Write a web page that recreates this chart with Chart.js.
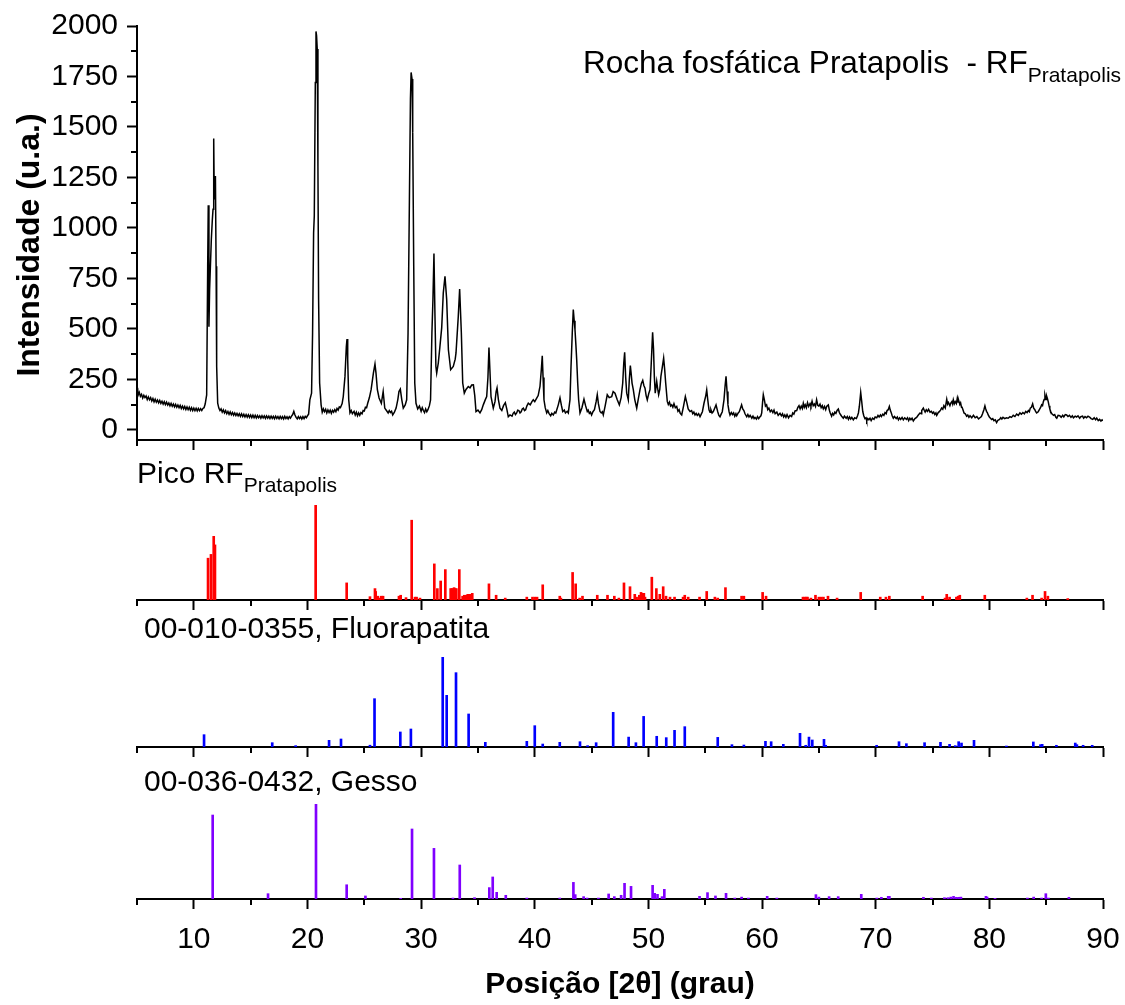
<!DOCTYPE html>
<html lang="pt">
<head>
<meta charset="utf-8">
<title>DRX - Rocha fosfática Pratapolis</title>
<script src="https://cdn.jsdelivr.net/npm/chart.js@4.4.1/dist/chart.umd.min.js"></script>
<style>
  html, body { margin: 0; padding: 0; background: #fff; }
  #page { position: relative; width: 1125px; height: 1005px; overflow: hidden;
          font-family: 'Liberation Sans', Arial, sans-serif; color: #000; }
  canvas { position: absolute; left: 0; display: block; }
  .label { position: absolute; font-size: 30px; line-height: 30px; white-space: pre; }
  .label .sub { font-size: 21px; position: relative; top: 9px; }
  .ytitle { position: absolute; width: 400px; left: -172px; top: 227px; height: 36px; line-height: 36px;
            text-align: center; font-size: 32px; font-weight: bold; transform: rotate(-90deg); }
</style>
</head>
<body>
<div id="page">
  <canvas id="scanChart" width="1125" height="460" style="top:0px"></canvas>
  <canvas id="picoChart" width="1125" height="160" style="top:460px"></canvas>
  <canvas id="fluorChart" width="1125" height="147" style="top:620px"></canvas>
  <canvas id="gessoChart" width="1125" height="235" style="top:770px"></canvas>

  <div class="ytitle">Intensidade (u.a.)</div>
  <div class="label" style="left:583px; top:47px; font-size:31.5px">Rocha fosfática Pratapolis  - RF<span class="sub">Pratapolis</span></div>
  <div class="label" style="left:137px; top:458px">Pico RF<span class="sub">Pratapolis</span></div>
  <div class="label" style="left:144px; top:613px">00-010-0355, Fluorapatita</div>
  <div class="label" style="left:144px; top:766px">00-036-0432, Gesso</div>
</div>

<script>
// --- DATA ---
// measured pattern: [2theta, counts]
const scanPoints = [
  [5.0,182],[5.05,208],[5.1,172],[5.2,186],[5.3,166],[5.4,176],[5.5,158],[5.6,171],[5.7,160],[5.8,168],
  [5.9,150],[6.0,163],[6.1,149],[6.2,160],[6.3,143],[6.4,155],[6.5,139],[6.6,152],[6.7,137],[6.8,148],
  [6.9,134],[7.0,146],[7.1,131],[7.2,142],[7.3,128],[7.4,140],[7.5,125],[7.6,137],[7.7,123],[7.8,133],
  [7.9,119],[8.0,131],[8.1,117],[8.2,128],[8.3,114],[8.4,126],[8.5,112],[8.6,123],[8.7,110],[8.8,121],
  [8.9,106],[9.0,118],[9.1,104],[9.2,116],[9.3,101],[9.4,114],[9.5,100],[9.6,112],[9.7,97],[9.8,110],
  [9.9,96],[10.0,108],[10.1,95],[10.2,107],[10.3,94],[10.4,106],[10.5,95],[10.6,105],[10.7,96],[10.8,106],
  [10.9,110],[11.0,128],[11.13,173],[11.22,810],[11.27,1112],[11.33,511],[11.39,695],[11.54,943],[11.63,1042],[11.69,1092],
  [11.75,1443],[11.8,1141],[11.9,1257],[11.96,810],[12.01,314],[12.1,132],[12.2,108],[12.3,96],[12.4,104],[12.5,88],
  [12.6,99],[12.7,84],[12.8,95],[12.9,80],[13.0,91],[13.1,77],[13.2,89],[13.3,75],[13.4,86],[13.5,73],
  [13.6,84],[13.7,71],[13.8,82],[13.9,70],[14.0,80],[14.1,67],[14.2,79],[14.3,66],[14.4,77],[14.5,64],
  [14.6,76],[14.7,63],[14.8,75],[14.9,62],[15.0,74],[15.1,61],[15.2,73],[15.3,60],[15.4,72],[15.5,59],
  [15.6,71],[15.7,60],[15.8,70],[15.9,58],[16.0,70],[16.1,59],[16.2,69],[16.3,57],[16.4,69],[16.5,58],
  [16.6,68],[16.7,56],[16.8,68],[16.9,57],[17.0,67],[17.1,55],[17.2,68],[17.3,57],[17.4,66],[17.5,55],
  [17.6,67],[17.7,56],[17.8,66],[17.9,54],[18.0,67],[18.1,56],[18.2,65],[18.3,55],[18.4,66],[18.5,58],
  [18.6,68],[18.7,76],[18.8,92],[18.9,74],[19.0,62],[19.1,55],[19.2,66],[19.3,56],[19.4,65],[19.5,54],
  [19.6,66],[19.7,56],[19.8,67],[19.9,60],[20.0,70],[20.1,78],[20.21,149],[20.36,182],[20.45,480],[20.54,976],
  [20.6,1059],[20.69,1720],[20.75,1973],[20.8,1952],[20.86,1886],[20.92,1307],[20.98,645],[21.07,232],[21.2,124],[21.3,88],
  [21.4,104],[21.5,90],[21.6,102],[21.7,84],[21.8,99],[21.9,86],[22.0,98],[22.1,82],[22.2,97],[22.3,88],
  [22.4,100],[22.5,90],[22.6,106],[22.7,98],[22.8,114],[22.9,110],[23.05,130],[23.15,165],[23.3,265],[23.42,413],
  [23.48,450],[23.54,347],[23.63,149],[23.74,84],[23.85,96],[23.95,80],[24.1,92],[24.2,74],[24.3,88],[24.4,70],
  [24.5,84],[24.6,72],[24.7,86],[24.8,80],[24.9,96],[25.0,94],[25.1,112],[25.2,110],[25.3,132],[25.45,160],
  [25.6,199],[25.8,281],[25.94,326],[26.03,281],[26.15,199],[26.3,158],[26.5,132],[26.66,190],[26.8,108],[26.95,96],
  [27.1,84],[27.2,96],[27.3,86],[27.4,92],[27.5,74],[27.65,88],[27.8,108],[27.95,150],[28.05,190],[28.17,202],
  [28.3,149],[28.43,108],[28.6,124],[28.73,149],[28.85,480],[28.97,1141],[29.06,1638],[29.12,1770],[29.2,1737],[29.26,1472],
  [29.35,810],[29.44,232],[29.55,132],[29.7,104],[29.85,118],[30.0,92],[30.1,110],[30.2,96],[30.3,86],[30.4,104],
  [30.5,90],[30.6,100],[30.73,120],[30.83,149],[30.95,480],[31.04,645],[31.13,873],[31.22,562],[31.3,314],[31.37,281],
  [31.51,331],[31.65,410],[31.81,505],[31.95,678],[32.1,761],[32.25,645],[32.4,397],[32.6,298],[32.83,314],[33.0,350],
  [33.07,381],[33.27,562],[33.39,698],[33.54,480],[33.66,232],[33.8,182],[33.95,200],[34.15,215],[34.3,208],[34.45,222],
  [34.6,223],[34.72,170],[34.83,91],[35.0,98],[35.18,84],[35.33,100],[35.47,124],[35.65,150],[35.77,165],[35.88,260],
  [35.97,408],[36.05,300],[36.15,165],[36.35,108],[36.5,140],[36.6,190],[36.68,208],[36.8,150],[36.94,108],[37.1,96],
  [37.25,120],[37.41,135],[37.55,100],[37.67,65],[37.82,74],[38.0,68],[38.1,82],[38.2,88],[38.3,76],[38.41,84],
  [38.5,98],[38.6,96],[38.7,84],[38.8,90],[38.9,104],[39.0,108],[39.1,96],[39.2,100],[39.3,118],[39.43,132],
  [39.6,124],[39.75,140],[39.87,149],[40.0,140],[40.17,157],[40.3,170],[40.46,215],[40.58,300],[40.66,367],[40.73,260],
  [40.81,149],[40.92,110],[41.05,84],[41.15,96],[41.25,82],[41.4,70],[41.5,82],[41.63,74],[41.75,88],[41.85,84],
  [42.07,124],[42.22,159],[42.35,120],[42.46,91],[42.6,98],[42.7,84],[42.85,92],[42.95,84],[43.1,150],[43.19,314],
  [43.3,480],[43.39,596],[43.47,540],[43.54,496],[43.62,420],[43.69,347],[43.78,230],[43.86,149],[43.98,84],[44.15,110],
  [44.33,152],[44.47,120],[44.62,91],[44.7,98],[44.8,82],[44.9,88],[45.0,74],[45.12,90],[45.25,100],[45.4,140],
  [45.5,174],[45.6,130],[45.74,91],[45.85,84],[45.95,90],[46.03,74],[46.2,120],[46.38,174],[46.55,160],[46.77,165],
  [46.9,190],[47.06,182],[47.25,150],[47.44,124],[47.6,160],[47.74,232],[47.83,330],[47.91,384],[48.0,260],[48.09,182],
  [48.23,149],[48.32,250],[48.41,319],[48.48,280],[48.56,232],[48.67,199],[48.8,150],[48.97,108],[49.1,150],[49.26,199],
  [49.38,230],[49.5,245],[49.6,220],[49.7,207],[49.8,170],[49.9,149],[50.03,180],[50.14,199],[50.25,330],[50.37,483],
  [50.45,400],[50.52,265],[50.6,182],[50.73,240],[50.8,210],[50.9,174],[51.0,200],[51.1,265],[51.22,310],[51.34,356],
  [51.43,300],[51.52,232],[51.66,141],[51.75,126],[51.85,138],[51.95,118],[52.05,124],[52.15,112],[52.25,130],[52.37,110],
  [52.49,116],[52.6,92],[52.7,100],[52.8,82],[52.93,74],[53.1,120],[53.25,165],[53.4,130],[53.5,104],[53.66,91],
  [53.8,96],[53.9,80],[54.0,88],[54.1,74],[54.2,82],[54.3,72],[54.42,80],[54.54,65],[54.65,78],[54.75,90],
  [54.89,132],[55.05,170],[55.13,198],[55.22,150],[55.33,99],[55.42,88],[55.5,100],[55.6,84],[55.71,91],[55.85,110],
  [55.95,124],[56.1,90],[56.2,72],[56.3,65],[56.4,78],[56.5,90],[56.65,149],[56.75,220],[56.83,265],[56.92,190],
  [57.0,124],[57.1,90],[57.18,74],[57.3,86],[57.4,76],[57.5,84],[57.6,68],[57.7,80],[57.77,70],[57.9,84],
  [58.0,90],[58.2,124],[58.3,104],[58.4,96],[58.5,80],[58.65,65],[58.75,76],[58.85,64],[58.95,72],[59.1,58],
  [59.2,68],[59.3,56],[59.38,62],[59.5,54],[59.6,66],[59.7,56],[59.8,64],[59.9,70],[59.97,84],[60.05,140],
  [60.11,174],[60.2,150],[60.3,118],[60.4,124],[60.5,100],[60.6,108],[60.72,90],[60.84,98],[60.95,86],[61.05,98],
  [61.15,80],[61.3,88],[61.42,72],[61.58,82],[61.7,70],[61.8,80],[61.9,64],[62.0,74],[62.1,62],[62.2,76],
  [62.33,60],[62.46,72],[62.6,66],[62.7,84],[62.8,78],[62.9,94],[63.05,96],[63.15,112],[63.25,120],[63.35,104],
  [63.45,118],[63.55,106],[63.63,132],[63.72,112],[63.8,124],[63.9,110],[64.0,135],[64.1,116],[64.22,130],[64.3,118],
  [64.4,142],[64.5,120],[64.6,128],[64.7,116],[64.8,149],[64.9,122],[65.0,118],[65.1,128],[65.2,110],[65.3,120],
  [65.39,104],[65.5,116],[65.6,100],[65.7,118],[65.83,124],[65.92,98],[66.0,84],[66.12,68],[66.2,82],[66.3,74],
  [66.4,88],[66.5,82],[66.6,96],[66.71,103],[66.8,86],[66.9,76],[67.0,68],[67.15,58],[67.25,68],[67.4,58],
  [67.5,66],[67.6,52],[67.7,64],[67.8,54],[67.9,62],[68.03,50],[68.15,60],[68.3,56],[68.4,70],[68.48,84],
  [68.56,116],[68.68,185],[68.77,140],[68.86,91],[68.95,70],[69.05,56],[69.15,60],[69.21,45],[69.3,56],[69.4,50],
  [69.5,58],[69.6,46],[69.72,58],[69.85,52],[69.95,64],[70.09,60],[70.2,72],[70.3,64],[70.42,74],[70.5,66],
  [70.62,78],[70.72,72],[70.82,86],[70.92,80],[71.0,96],[71.1,100],[71.2,116],[71.28,98],[71.35,88],[71.45,70],
  [71.55,58],[71.65,66],[71.8,56],[71.9,64],[72.0,50],[72.1,60],[72.2,52],[72.32,62],[72.43,50],[72.55,60],
  [72.7,52],[72.8,60],[72.9,46],[73.0,58],[73.1,50],[73.2,58],[73.31,44],[73.45,56],[73.6,62],[73.75,74],
  [73.9,84],[74.0,80],[74.05,96],[74.19,108],[74.28,96],[74.35,88],[74.45,100],[74.55,92],[74.65,102],[74.78,88],
  [74.9,92],[75.0,82],[75.1,88],[75.2,76],[75.3,84],[75.37,72],[75.5,86],[75.6,90],[75.7,98],[75.8,108],
  [75.9,102],[76.0,120],[76.12,108],[76.25,152],[76.33,128],[76.4,136],[76.53,120],[76.62,134],[76.7,140],[76.77,128],
  [76.83,149],[76.92,130],[77.0,140],[77.1,130],[77.18,157],[77.25,138],[77.3,146],[77.4,126],[77.47,134],[77.55,112],
  [77.6,112],[77.7,96],[77.77,84],[77.88,80],[78.0,68],[78.1,74],[78.2,62],[78.3,70],[78.45,60],[78.6,72],
  [78.75,60],[78.9,66],[79.05,54],[79.17,60],[79.3,66],[79.4,80],[79.52,100],[79.61,119],[79.68,104],[79.75,92],
  [79.82,86],[79.9,74],[80.0,64],[80.1,58],[80.2,52],[80.3,56],[80.4,46],[80.52,50],[80.64,36],[80.75,48],
  [80.9,52],[81.0,60],[81.1,54],[81.2,62],[81.35,56],[81.5,60],[81.65,58],[81.81,66],[81.95,62],[82.1,72],
  [82.25,66],[82.4,78],[82.55,72],[82.69,84],[82.82,78],[82.95,86],[83.08,80],[83.2,92],[83.32,86],[83.43,96],
  [83.52,90],[83.6,108],[83.7,112],[83.81,129],[83.9,108],[84.0,100],[84.08,90],[84.16,84],[84.3,90],[84.4,100],
  [84.5,110],[84.6,124],[84.68,120],[84.75,140],[84.82,150],[84.89,174],[84.95,160],[85.0,150],[85.05,166],[85.1,157],
  [85.18,140],[85.25,120],[85.32,104],[85.4,91],[85.5,80],[85.65,72],[85.75,76],[85.85,62],[85.93,58],[86.05,72],
  [86.2,70],[86.32,62],[86.45,72],[86.55,64],[86.68,76],[86.8,74],[86.92,66],[87.05,72],[87.18,62],[87.3,70],
  [87.4,60],[87.55,68],[87.68,64],[87.8,70],[87.95,58],[88.05,66],[88.2,68],[88.3,58],[88.42,66],[88.55,60],
  [88.68,68],[88.85,62],[88.95,56],[89.1,52],[89.22,60],[89.35,50],[89.45,58],[89.58,46],[89.7,52],[89.82,44],
  [89.92,50],[90.0,45]
];

// peak list of the sample: [2theta, relative intensity %]
const picoPeaks = [
  [11.25,44],[11.51,48],[11.75,67],[11.86,58],[20.72,100],[23.45,18],[25.5,3.5],[25.94,12],[26.0,9],[26.2,4],
  [26.4,2],[26.5,4],[26.65,4],[28.05,4],[28.2,5],[28.67,2.5],[29.17,84],[29.46,3],[29.6,3],[29.9,2],
  [31.16,38],[31.43,12],[31.72,20],[32.13,32],[32.6,12],[32.7,12],[32.8,12],[32.9,13],[33.0,12],[33.1,12],
  [33.36,32],[33.65,4],[33.8,5],[33.95,5],[34.1,6],[34.3,6],[34.5,7],[35.97,17],[36.6,5],[37.4,2],
  [39.3,3],[39.8,3],[40.0,3],[40.2,3],[40.7,16],[42.2,4],[42.3,2],[43.33,29],[43.6,17],[43.95,2],
  [44.2,4],[45.5,5],[46.4,5],[47.0,4],[47.4,2],[47.85,18],[48.38,14],[48.8,6],[48.96,3],[49.2,5],
  [49.35,8],[49.5,7],[49.6,7],[49.7,3],[50.3,24],[50.7,12],[51.0,6],[51.3,14],[51.55,4],[51.9,3],
  [52.3,3],[53.05,3],[53.2,5],[53.5,3],[54.5,3],[55.13,9],[55.85,3],[56.1,2],[56.78,13],[58.2,4],
  [58.4,4],[60.05,8],[60.35,4],[63.6,3],[63.75,3],[63.9,3],[64.0,3],[64.3,2],[64.7,5],[65.0,3],
  [65.2,3],[65.4,3],[65.8,4],[66.6,2],[68.68,8],[70.4,3],[70.9,3],[71.2,4],[74.13,4],[76.1,2],
  [76.25,6],[76.5,3],[77.1,3],[77.25,4],[77.4,5],[79.6,5],[83.3,2],[83.8,5],[84.6,2],[84.9,9],
  [85.15,4],[86.9,1.5]
];

// reference card 00-010-0355 (fluorapatite)
const fluorPeaks = [
  [10.9,13.7],[16.9,4.8],[18.96,1.5],[21.9,7.4],[22.95,8.9],[25.5,2],[25.9,53.7],[28.17,16.7],[29.1,20],[31.9,100],
  [32.25,57.4],[33.07,82.6],[34.18,36.7],[35.65,5.2],[39.3,6.3],[40.0,23.7],[40.7,3.3],[42.2,5.2],[43.98,5.9],[44.65,1.5],
  [45.4,4.8],[46.9,38.5],[48.26,11],[48.9,4.8],[49.58,34],[50.73,11.9],[51.57,10.4],[52.3,18.5],[53.2,22.6],[56.1,10.7],
  [57.35,2.6],[58.4,2.2],[60.3,6.3],[60.8,5.9],[61.87,3],[63.34,15.2],[63.84,1.9],[64.13,11],[64.42,7.8],[65.45,8.5],
  [65.6,1.9],[70.08,1.9],[72.05,5.9],[72.7,3.7],[74.3,4.8],[75.7,5.2],[76.5,3],[77.0,1.5],[77.3,5.9],[77.55,4.4],
  [78.65,7.4],[81.5,1.1],[83.87,5.6],[84.5,2.6],[84.65,3],[85.9,1.9],[87.56,4.4],[87.7,2.6],[88.25,1.9],[89.05,1.9]
];

// reference card 00-036-0432 (gypsum)
const gessoPeaks = [
  [11.66,88.4],[16.53,5.6],[20.75,100],[23.45,15],[25.1,3.2],[28.2,0.7],[29.2,73.7],[31.13,53.3],[32.8,1],[33.4,35.8],
  [34.7,1.4],[36.0,12],[36.3,23.2],[36.65,7],[37.45,3.9],[39.3,1],[42.2,1],[43.4,17.5],[43.56,4.6],[44.3,2.5],
  [44.6,1],[45.6,1],[46.5,5.3],[47.0,2.5],[47.6,3.9],[47.9,16.5],[48.47,13.3],[50.37,14.4],[50.55,6],[50.8,4.9],
  [51.2,2.5],[51.4,10.2],[54.5,2.8],[55.2,6.7],[55.9,3.2],[56.83,6],[57.6,1],[58.2,2],[58.8,1],[60.45,2.8],
  [61.3,1],[64.74,4.6],[65.0,2],[65.9,2.5],[66.7,2.5],[68.73,4.9],[70.1,1],[70.5,1.8],[71.1,2.8],[71.2,2.8],
  [74.2,1.8],[74.9,1],[76.05,1.4],[76.35,1.4],[76.6,2],[76.85,2.8],[77.1,1.8],[77.3,1.8],[77.5,2],[79.7,2.8],
  [79.8,2],[80.5,0.7],[83.35,1],[83.9,2],[84.6,1],[84.97,5.6],[85.2,1],[87.0,1.8]
];

// axis ranges
const xRange = [5, 90];
const xMajorStep = 10, xMinorStep = 5;
const yRange = [-50, 2000];
const yMajorStep = 250, yMinorStep = 125;

// --- HELPERS ---
const FONT = "'Liberation Sans', Arial, sans-serif";
const isMajorX = v => v % xMajorStep === 0;
const isMajorY = v => v >= 0 && v % yMajorStep === 0;
const toXY = pairs => pairs.map(([x, y]) => ({ x, y }));

// Chart.js has a single tick length per axis, so the short minor ticks are added here
const minorTicks = {
  id: 'minorTicks',
  afterDraw(chart) {
    const { ctx, chartArea, scales } = chart;
    ctx.save();
    ctx.strokeStyle = '#000';
    ctx.lineWidth = 2;
    scales.x.ticks.forEach(t => {
      if (isMajorX(t.value)) return;
      const px = Math.round(scales.x.getPixelForValue(t.value));
      ctx.beginPath();
      ctx.moveTo(px, chartArea.bottom);
      ctx.lineTo(px, chartArea.bottom + 6);
      ctx.stroke();
    });
    if (scales.y.options.display) {
      scales.y.ticks.forEach(t => {
        if (t.value <= 0 || isMajorY(t.value) || t.value % yMinorStep !== 0) return;
        const py = Math.round(scales.y.getPixelForValue(t.value));
        ctx.beginPath();
        ctx.moveTo(chartArea.left - 6, py);
        ctx.lineTo(chartArea.left, py);
        ctx.stroke();
      });
    }
    ctx.restore();
  }
};

function xAxis(height, withLabels) {
  return {
    type: 'linear',
    min: xRange[0],
    max: xRange[1],
    offset: false,
    afterFit: scale => {
      scale.height = height;
      scale.paddingLeft = 0;
      scale.paddingRight = 0;
    },
    border: { display: true, color: '#000', width: 2 },
    grid: {
      offset: false,
      drawOnChartArea: false,
      drawTicks: true,
      tickLength: 10,
      tickWidth: 2,
      tickColor: ctx => isMajorX(ctx.tick.value) ? '#000' : 'rgba(0,0,0,0)'
    },
    ticks: {
      display: withLabels,
      stepSize: xMinorStep,
      autoSkip: false,
      maxRotation: 0,
      padding: 13,
      color: '#000',
      font: { family: FONT, size: 30 },
      callback: v => isMajorX(v) ? String(v) : ''
    },
    title: {
      display: withLabels,
      text: 'Posição [2θ] (grau)',
      color: '#000',
      font: { family: FONT, size: 30, weight: 'bold' },
      padding: { top: 0, bottom: 2 }
    }
  };
}

function stickChart(id, peaks, color, top, xHeight, withLabels) {
  return new Chart(document.getElementById(id), {
    type: 'bar',
    data: {
      datasets: [{
        data: toXY(peaks),
        backgroundColor: color,
        borderWidth: 0,
        barThickness: 2
      }]
    },
    options: {
      responsive: false,
      animation: false,
      layout: { padding: { top: top, right: 22, bottom: 0, left: 137 } },
      plugins: { legend: { display: false }, tooltip: { enabled: false } },
      scales: {
        x: xAxis(xHeight, withLabels),
        y: { display: false, min: 0, max: 100 }
      }
    },
    plugins: [minorTicks]
  });
}

// --- CHARTS ---
new Chart(document.getElementById('scanChart'), {
  type: 'line',
  data: {
    datasets: [{
      data: toXY(scanPoints),
      borderColor: '#000',
      borderWidth: 1.5,
      pointRadius: 0,
      tension: 0
    }]
  },
  options: {
    responsive: false,
    animation: false,
    layout: { padding: { top: 26, right: 22, bottom: 0, left: 0 } },
    plugins: { legend: { display: false }, tooltip: { enabled: false } },
    scales: {
      x: xAxis(20, false),
      y: {
        min: yRange[0],
        max: yRange[1],
        afterFit: scale => {
          scale.width = 137;
          scale.paddingTop = 0;
          scale.paddingBottom = 0;
        },
        border: { display: true, color: '#000', width: 2 },
        grid: {
          drawOnChartArea: false,
          tickLength: 10,
          tickWidth: 2,
          tickColor: ctx => isMajorY(ctx.tick.value) ? '#000' : 'rgba(0,0,0,0)'
        },
        ticks: {
          stepSize: yMinorStep,
          includeBounds: false,
          autoSkip: false,
          padding: 9,
          color: '#000',
          font: { family: FONT, size: 30 },
          callback: v => isMajorY(v) ? String(v) : ''
        }
      }
    }
  },
  plugins: [minorTicks]
});

stickChart('picoChart', picoPeaks, '#ff0000', 45, 20, false);
stickChart('fluorChart', fluorPeaks, '#0000ff', 37, 20, false);
stickChart('gessoChart', gessoPeaks, '#8000ff', 34, 106, true);
</script>
</body>
</html>
